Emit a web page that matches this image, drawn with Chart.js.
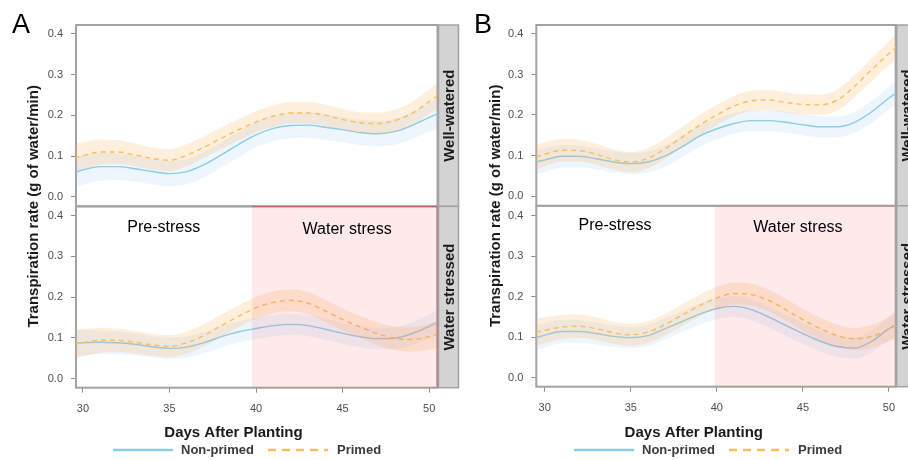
<!DOCTYPE html>
<html>
<head>
<meta charset="utf-8">
<script src="https://cdn.jsdelivr.net/npm/chart.js@4"></script>
<style>
  html, body { margin: 0; padding: 0; background: #fff; }
  #wrap { position: relative; width: 908px; height: 460px; overflow: hidden; }
  canvas { position: absolute; top: 0; }
</style>
</head>
<body>
<div id="wrap">
  <canvas id="panelA" width="460" height="460" style="left:0"></canvas>
  <canvas id="panelB" width="448" height="460" style="left:460px"></canvas>
</div>
<script>
// values
const days = [29.5, 30, 31, 32, 33, 34, 35, 36, 37, 38, 39, 40, 41, 42, 43, 44, 45, 46, 47, 48, 49, 50, 50.5];
const xTicks = [30, 35, 40, 45, 50];
const yTicks = [0, 0.1, 0.2, 0.3, 0.4];
const facetLabels = ['Well-watered', 'Water stressed'];
const periodLabels = ['Pre-stress', 'Water stress'];
const seriesLabels = ['Non-primed', 'Primed'];
const stressStart = [39.75, 39.87];

// panel A, well-watered
const aWellPrimed   = [0.096, 0.101, 0.110, 0.110, 0.103, 0.094, 0.090, 0.102, 0.122, 0.144, 0.165, 0.184, 0.198, 0.206, 0.206, 0.200, 0.190, 0.182, 0.180, 0.187, 0.205, 0.234, 0.249];
const aWellPrimedSe = [0.034, 0.033, 0.031, 0.029, 0.028, 0.027, 0.027, 0.027, 0.026, 0.026, 0.026, 0.026, 0.026, 0.026, 0.026, 0.026, 0.026, 0.026, 0.027, 0.027, 0.028, 0.030, 0.032];
const aWellNon      = [0.059, 0.066, 0.074, 0.074, 0.069, 0.062, 0.057, 0.062, 0.079, 0.103, 0.129, 0.152, 0.168, 0.175, 0.176, 0.171, 0.165, 0.158, 0.155, 0.160, 0.175, 0.195, 0.204];
const aWellNonSe    = [0.037, 0.036, 0.034, 0.033, 0.032, 0.031, 0.031, 0.031, 0.031, 0.031, 0.031, 0.031, 0.031, 0.031, 0.031, 0.031, 0.031, 0.031, 0.031, 0.032, 0.033, 0.035, 0.037];
// panel A, water stressed
const aDryPrimed    = [0.084, 0.088, 0.094, 0.094, 0.089, 0.083, 0.079, 0.088, 0.106, 0.130, 0.153, 0.174, 0.187, 0.192, 0.185, 0.166, 0.145, 0.127, 0.110, 0.099, 0.096, 0.103, 0.109];
const aDryPrimedSe  = [0.035, 0.034, 0.031, 0.029, 0.028, 0.027, 0.027, 0.027, 0.027, 0.027, 0.027, 0.027, 0.027, 0.027, 0.027, 0.027, 0.027, 0.027, 0.028, 0.029, 0.030, 0.032, 0.034];
const aDryNon       = [0.087, 0.088, 0.089, 0.088, 0.084, 0.078, 0.074, 0.077, 0.088, 0.103, 0.115, 0.123, 0.130, 0.133, 0.130, 0.121, 0.111, 0.103, 0.098, 0.099, 0.110, 0.128, 0.138];
const aDryNonSe     = [0.032, 0.031, 0.029, 0.028, 0.027, 0.026, 0.026, 0.026, 0.026, 0.026, 0.026, 0.026, 0.026, 0.026, 0.026, 0.026, 0.026, 0.026, 0.026, 0.027, 0.028, 0.030, 0.032];
// panel B, well-watered
const bWellPrimed   = [0.096, 0.103, 0.113, 0.112, 0.103, 0.090, 0.084, 0.093, 0.117, 0.146, 0.175, 0.200, 0.222, 0.235, 0.237, 0.231, 0.226, 0.225, 0.237, 0.271, 0.312, 0.352, 0.370];
const bWellPrimedSe = [0.031, 0.030, 0.028, 0.027, 0.026, 0.025, 0.025, 0.025, 0.025, 0.025, 0.025, 0.025, 0.025, 0.025, 0.025, 0.025, 0.025, 0.025, 0.026, 0.027, 0.028, 0.030, 0.032];
const bWellNon      = [0.084, 0.089, 0.098, 0.098, 0.092, 0.084, 0.080, 0.084, 0.099, 0.122, 0.148, 0.166, 0.179, 0.186, 0.186, 0.182, 0.176, 0.171, 0.171, 0.182, 0.208, 0.242, 0.256];
const bWellNonSe    = [0.030, 0.029, 0.028, 0.027, 0.026, 0.026, 0.026, 0.026, 0.026, 0.026, 0.026, 0.026, 0.026, 0.026, 0.026, 0.026, 0.026, 0.026, 0.026, 0.026, 0.027, 0.028, 0.030];
// panel B, water stressed
const bDryPrimed    = [0.112, 0.117, 0.125, 0.127, 0.121, 0.111, 0.106, 0.113, 0.131, 0.155, 0.178, 0.197, 0.208, 0.205, 0.191, 0.168, 0.143, 0.121, 0.104, 0.096, 0.102, 0.120, 0.132];
const bDryPrimedSe  = [0.033, 0.032, 0.030, 0.029, 0.028, 0.027, 0.027, 0.027, 0.027, 0.027, 0.027, 0.027, 0.027, 0.027, 0.027, 0.027, 0.027, 0.027, 0.027, 0.027, 0.028, 0.030, 0.032];
const bDryNon       = [0.099, 0.105, 0.114, 0.114, 0.109, 0.102, 0.099, 0.104, 0.121, 0.139, 0.157, 0.171, 0.176, 0.168, 0.150, 0.129, 0.109, 0.090, 0.077, 0.073, 0.090, 0.121, 0.132];
const bDryNonSe     = [0.031, 0.030, 0.029, 0.028, 0.027, 0.026, 0.026, 0.026, 0.026, 0.026, 0.026, 0.026, 0.026, 0.026, 0.026, 0.026, 0.026, 0.026, 0.026, 0.026, 0.027, 0.029, 0.031];

const BLUE = '#8ecbe6';
const BLUE_BAND = 'rgba(140, 195, 245, 0.16)';
const ORANGE = '#fbbe5c';
const ORANGE_BAND = 'rgba(251, 175, 90, 0.21)';
const STRESS = 'rgba(245, 80, 80, 0.12)';
const FRAME = '#a3a3a3';

Chart.defaults.font.family = '"Liberation Sans", Arial, sans-serif';

function pts(vals) {
  return vals.map((v, i) => ({ x: days[i], y: v }));
}

function facetSets(yID, primed, primedSe, non, nonSe) {
  const common = { yAxisID: yID, pointRadius: 0, cubicInterpolationMode: 'monotone' };
  const hidden = { borderColor: 'rgba(0,0,0,0)', borderWidth: 0 };
  return [
    { ...common, data: pts(primed), borderColor: ORANGE, borderWidth: 1.4, borderDash: [5, 4], fill: false },
    { ...common, ...hidden, data: pts(primed.map((v, i) => v + primedSe[i])), fill: false },
    { ...common, ...hidden, data: pts(primed.map((v, i) => v - primedSe[i])), fill: '-1', backgroundColor: ORANGE_BAND },
    { ...common, data: pts(non), borderColor: BLUE, borderWidth: 1.4, fill: false },
    { ...common, ...hidden, data: pts(non.map((v, i) => v + nonSe[i])), fill: false },
    { ...common, ...hidden, data: pts(non.map((v, i) => v - nonSe[i])), fill: '-1', backgroundColor: BLUE_BAND }
  ];
}

const decor = {
  id: 'decor',
  beforeDatasetsDraw(chart, args, p) {
    const { ctx, chartArea: a, scales } = chart;
    ctx.save();
    ctx.strokeStyle = FRAME;
    ctx.lineWidth = 2;
    ['yTop', 'yBot'].forEach(id => {
      const s = scales[id];
      ctx.strokeRect(a.left, s.top, a.right - a.left, s.bottom - s.top);
    });
    ctx.restore();
  },
  afterDraw(chart, args, p) {
    const { ctx, chartArea: a, scales } = chart;
    ctx.save();
    // facet strips
    ['yTop', 'yBot'].forEach((id, k) => {
      const s = scales[id];
      ctx.fillStyle = '#d3d3d3';
      ctx.fillRect(a.right + 1, s.top, 20, s.bottom - s.top);
      ctx.strokeStyle = FRAME;
      ctx.lineWidth = 1.5;
      ctx.strokeRect(a.right + 1, s.top, 20, s.bottom - s.top);
      ctx.save();
      ctx.translate(a.right + 11, (s.top + s.bottom) / 2);
      ctx.rotate(-Math.PI / 2);
      ctx.fillStyle = '#1a1a1a';
      ctx.font = 'bold 15px "Liberation Sans", Arial, sans-serif';
      ctx.textAlign = 'center';
      ctx.textBaseline = 'middle';
      ctx.fillText(facetLabels[k], 0, 1);
      ctx.restore();
    });
    // period labels
    ctx.fillStyle = '#000';
    ctx.font = '16px "Liberation Sans", Arial, sans-serif';
    ctx.textAlign = 'center';
    ctx.textBaseline = 'middle';
    periodLabels.forEach((t, k) => {
      const [dx, dy] = p.periodPos[k];
      ctx.fillText(t, scales.x.getPixelForValue(dx), scales.yBot.getPixelForValue(dy));
    });
    // panel letter
    ctx.font = '27px "Liberation Sans", Arial, sans-serif';
    ctx.textAlign = 'left';
    ctx.textBaseline = 'alphabetic';
    ctx.fillText(p.letter, p.letterX, 33);
    // axis titles
    ctx.fillStyle = '#1a1a1a';
    ctx.font = 'bold 15px "Liberation Sans", Arial, sans-serif';
    ctx.textAlign = 'center';
    ctx.textBaseline = 'middle';
    ctx.fillText('Days After Planting', p.xTitleX, 433);
    ctx.save();
    ctx.translate(p.yTitleX, scales.yTop.bottom);
    ctx.rotate(-Math.PI / 2);
    ctx.fillText('Transpiration rate (g of water/min)', 0, 0);
    ctx.restore();
    // legend
    const lx = p.legendX, ly = 450;
    ctx.lineWidth = 2.5;
    ctx.strokeStyle = BLUE;
    ctx.beginPath(); ctx.moveTo(lx, ly); ctx.lineTo(lx + 60, ly); ctx.stroke();
    ctx.strokeStyle = ORANGE;
    ctx.setLineDash([8, 6]);
    ctx.beginPath(); ctx.moveTo(lx + 155, ly); ctx.lineTo(lx + 215, ly); ctx.stroke();
    ctx.setLineDash([]);
    ctx.fillStyle = '#3a3a3a';
    ctx.font = 'bold 13px "Liberation Sans", Arial, sans-serif';
    ctx.textAlign = 'left';
    ctx.fillText(seriesLabels[0], lx + 68, ly);
    ctx.fillText(seriesLabels[1], lx + 224, ly);
    ctx.restore();
  }
};

function makePanel(p, well, dry, start) {
  const stressData = p.closeRight
    ? [{ x: start, y: p.yBot[1] }, { x: p.xMax, y: p.yBot[1] }, { x: p.xMax, y: p.yBot[0] }]
    : [{ x: start, y: p.yBot[1] }, { x: p.xMax, y: p.yBot[1] }];
  const datasets = [
    { yAxisID: 'yBot', data: stressData, fill: 'start', backgroundColor: STRESS,
      borderColor: p.stressEdge, borderWidth: 1.5, pointRadius: 0, tension: 0 },
    ...facetSets('yTop', ...well),
    ...facetSets('yBot', ...dry)
  ];
  const yAxis = range => ({
    type: 'linear', position: 'left', stack: 'facet', min: range[0], max: range[1],
    afterBuildTicks: s => { s.ticks = yTicks.map(v => ({ value: v })); },
    afterFit: s => { s.width = p.left; },
    grid: { drawOnChartArea: false, tickLength: 5, color: '#8c8c8c' },
    border: { display: false },
    ticks: { font: { size: 11 }, color: '#4d4d4d', padding: 8, callback: v => v.toFixed(1) }
  });
  new Chart(document.getElementById(p.canvas), {
    type: 'line',
    data: { datasets },
    options: {
      responsive: false,
      animation: false,
      devicePixelRatio: 1,
      events: [],
      layout: { padding: { top: p.top, right: p.W - p.right, left: 0, bottom: 0 } },
      scales: {
        x: {
          type: 'linear', min: p.xMin, max: p.xMax,
          afterBuildTicks: s => { s.ticks = xTicks.map(v => ({ value: v })); },
          afterFit: s => { s.height = 460 - p.bottom; },
          grid: { drawOnChartArea: false, tickLength: 5, color: '#8c8c8c' },
          border: { display: false },
          ticks: { font: { size: 11 }, color: '#4d4d4d', padding: 10, maxRotation: 0, callback: v => String(v) }
        },
        yBot: yAxis(p.yBot),
        yTop: yAxis(p.yTop)
      },
      plugins: { legend: { display: false }, tooltip: { enabled: false }, decor: p }
    },
    plugins: [decor]
  });
}

makePanel({
  canvas: 'panelA', letter: 'A', W: 460, left: 76, right: 437.5, top: 25, bottom: 387.7,
  xMin: 29.6, xMax: 50.48, yTop: [-0.0235, 0.4221], yBot: [-0.0226, 0.423],
  stressEdge: 'rgba(205, 70, 70, 0.85)', closeRight: true,
  periodPos: [[34.67, 0.37], [45.26, 0.367]],
  letterX: 12, yTitleX: 34, xTitleX: 233.5, legendX: 113
}, [aWellPrimed, aWellPrimedSe, aWellNon, aWellNonSe], [aDryPrimed, aDryPrimedSe, aDryNon, aDryNonSe], stressStart[0]);

makePanel({
  canvas: 'panelB', letter: 'B', W: 448, left: 76.3, right: 435.7, top: 25, bottom: 386.7,
  xMin: 29.51, xMax: 50.39, yTop: [-0.0243, 0.4222], yBot: [-0.0222, 0.4243],
  stressEdge: 'rgba(240, 150, 150, 0.6)', closeRight: false,
  periodPos: [[34.08, 0.375], [44.71, 0.371]],
  letterX: 14, yTitleX: 35.5, xTitleX: 233.8, legendX: 114
}, [bWellPrimed, bWellPrimedSe, bWellNon, bWellNonSe], [bDryPrimed, bDryPrimedSe, bDryNon, bDryNonSe], stressStart[1]);
</script>
</body>
</html>
